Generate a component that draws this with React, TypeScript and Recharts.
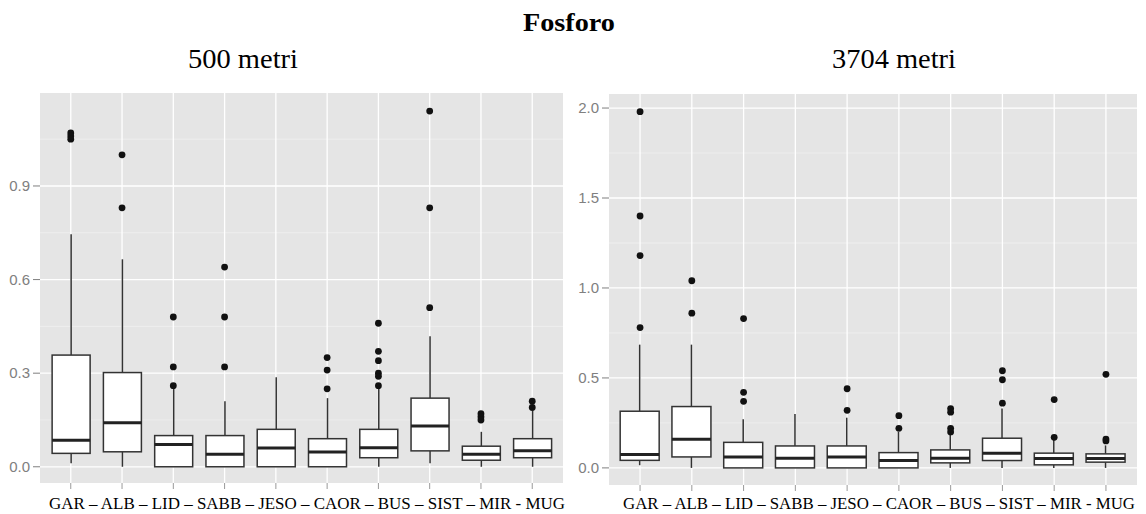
import React from 'react';
import { ComposedChart, Bar, Scatter, XAxis, YAxis, CartesianGrid } from 'recharts';

// ---------- data ----------
const categories = ['GAR', 'ALB', 'LID', 'SABB', 'JESO', 'CAOR', 'BUS', 'SIST', 'MIR', 'MUG'];
const xLabelText = 'GAR – ALB – LID – SABB – JESO – CAOR – BUS – SIST – MIR - MUG';

// 500 metri
const lowWhisker500 = [0.011, 0, 0, 0, 0, 0, 0, 0.011, 0, 0];
const q1_500 = [0.043, 0.048, 0, 0, 0, 0, 0.029, 0.051, 0.021, 0.029];
const median500 = [0.085, 0.141, 0.071, 0.04, 0.06, 0.047, 0.061, 0.131, 0.04, 0.051];
const q3_500 = [0.358, 0.302, 0.1, 0.1, 0.12, 0.09, 0.12, 0.22, 0.066, 0.09];
const highWhisker500 = [0.745, 0.665, 0.25, 0.21, 0.287, 0.22, 0.255, 0.418, 0.112, 0.18];
const outliers500 = [
  [1.07, 1.06, 1.05],
  [1.0, 0.83],
  [0.48, 0.32, 0.26],
  [0.64, 0.48, 0.32],
  [],
  [0.35, 0.31, 0.25],
  [0.46, 0.37, 0.34, 0.3, 0.29, 0.26],
  [1.14, 0.83, 0.51],
  [0.17, 0.16, 0.15],
  [0.21, 0.19],
];
const majorTicks500 = [0, 0.3, 0.6, 0.9];
const minorTicks500 = [0.15, 0.45, 0.75, 1.05];
const domain500: [number, number] = [-0.052, 1.198];

// 3704 metri
const lowWhisker3704 = [0.015, 0, 0, 0, 0, 0, 0, 0, 0, 0];
const q1_3704 = [0.042, 0.061, 0, 0, 0, 0, 0.028, 0.041, 0.017, 0.032];
const median3704 = [0.074, 0.159, 0.061, 0.054, 0.061, 0.041, 0.054, 0.082, 0.052, 0.052];
const q3_3704 = [0.315, 0.341, 0.142, 0.122, 0.122, 0.085, 0.1, 0.165, 0.082, 0.078];
const highWhisker3704 = [0.685, 0.685, 0.27, 0.3, 0.279, 0.2, 0.19, 0.33, 0.16, 0.125];
const outliers3704 = [
  [1.98, 1.4, 1.18, 0.78],
  [1.04, 0.86],
  [0.83, 0.42, 0.37],
  [],
  [0.44, 0.32],
  [0.29, 0.22],
  [0.33, 0.31, 0.22, 0.2],
  [0.54, 0.49, 0.36],
  [0.38, 0.17],
  [0.52, 0.16, 0.15],
];
const majorTicks3704 = [0, 0.5, 1.0, 1.5, 2.0];
const minorTicks3704 = [0.25, 0.75, 1.25, 1.75];
const domain3704: [number, number] = [-0.095, 2.078];

const categoryPositions = categories.map((_, i) => i + 1);

// ---------- builders ----------
function buildBoxes(lo: number[], q1: number[], med: number[], q3: number[], hi: number[]) {
  return categories.map((name, i) => ({
    name,
    x: i + 1,
    range: [lo[i], hi[i]],
    lo: lo[i],
    q1: q1[i],
    med: med[i],
    q3: q3[i],
    hi: hi[i],
  }));
}

function buildOutliers(out: number[][]) {
  return out.flatMap((vals, i) => vals.map((v) => ({ x: i + 1, y: v })));
}

const BoxShape = (props: any) => {
  const { x, y, width, height, payload } = props;
  if (!payload) return null;
  const { lo, hi, q1, med, q3 } = payload;
  const span = hi - lo;
  const toPix = (v: number) => y + (height * (hi - v)) / span;
  const cx = x + width / 2;
  const yHi = toPix(hi);
  const yLo = toPix(lo);
  const yQ1 = toPix(q1);
  const yQ3 = toPix(q3);
  const yMed = toPix(med);
  return (
    <g>
      <line x1={cx} x2={cx} y1={yHi} y2={yQ3} stroke="#333" strokeWidth={1.5} />
      <line x1={cx} x2={cx} y1={yQ1} y2={yLo} stroke="#333" strokeWidth={1.5} />
      <rect x={x} y={yQ3} width={width} height={yQ1 - yQ3} fill="#fff" stroke="#333" strokeWidth={1.5} />
      <line x1={x} x2={x + width} y1={yMed} y2={yMed} stroke="#222" strokeWidth={3} />
    </g>
  );
};

const OutlierDot = (props: any) => {
  const { cx, cy } = props;
  if (cx == null || cy == null) return null;
  return <circle cx={cx} cy={cy} r={3.4} fill="#111" />;
};

const YTick = (props: any) => {
  const { x, y, payload } = props;
  return (
    <text
      x={x}
      y={y}
      dy={5}
      textAnchor="end"
      fill="#808080"
      fontSize={15}
      fontFamily="Liberation Sans, Arial, sans-serif"
    >
      {Number(payload.value).toFixed(1)}
    </text>
  );
};

function Panel(props: {
  width: number;
  height: number;
  margin: any;
  boxes: any[];
  outliers: any[];
  domain: [number, number];
  major: number[];
  minor: number[];
  barSize: number;
}) {
  const { width, height, margin, boxes, outliers, domain, major, minor, barSize } = props;
  return (
    <ComposedChart width={width} height={height} data={boxes} margin={margin}>
      <CartesianGrid
        fill="#e5e5e5"
        stroke="#f2f2f2"
        strokeWidth={0.7}
        horizontalValues={minor}
        vertical={false}
      />
      <CartesianGrid
        stroke="#ffffff"
        strokeWidth={1.3}
        horizontalValues={major}
        verticalValues={categoryPositions}
      />
      <XAxis
        dataKey="x"
        type="number"
        domain={[0.4, 10.6]}
        ticks={categoryPositions}
        interval={0}
        allowDataOverflow
        axisLine={false}
        tickLine={{ stroke: '#9a9a9a' }}
        tickSize={6}
        tickFormatter={() => ''}
        height={8}
      />
      <YAxis
        type="number"
        domain={domain}
        ticks={major}
        interval={0}
        allowDataOverflow
        axisLine={false}
        tickLine={{ stroke: '#7f7f7f' }}
        tickSize={7}
        tickMargin={3}
        width={35}
        tick={YTick}
      />
      <Bar dataKey="range" barSize={barSize} shape={BoxShape} isAnimationActive={false} />
      <Scatter data={outliers} dataKey="y" shape={OutlierDot} isAnimationActive={false} />
    </ComposedChart>
  );
}

export default function App() {
  const boxes500 = buildBoxes(lowWhisker500, q1_500, median500, q3_500, highWhisker500);
  const boxes3704 = buildBoxes(lowWhisker3704, q1_3704, median3704, q3_3704, highWhisker3704);
  const out500 = buildOutliers(outliers500);
  const out3704 = buildOutliers(outliers3704);
  const serif = 'Liberation Serif, Times New Roman, serif';

  return (
    <div style={{ position: 'absolute', left: 0, top: 0, width: 1146, height: 514, background: '#fff', overflow: 'hidden' }}>
      <div style={{ position: 'absolute', left: 0, top: 0 }}>
        <Panel
          width={570}
          height={491}
          margin={{ top: 93, right: 7, left: 5, bottom: 0 }}
          boxes={boxes500}
          outliers={out500}
          domain={domain500}
          major={majorTicks500}
          minor={minorTicks500}
          barSize={38}
        />
      </div>
      <div style={{ position: 'absolute', left: 570, top: 0 }}>
        <Panel
          width={576}
          height={493}
          margin={{ top: 94, right: 9, left: 4, bottom: 0 }}
          boxes={boxes3704}
          outliers={out3704}
          domain={domain3704}
          major={majorTicks3704}
          minor={minorTicks3704}
          barSize={39}
        />
      </div>
      <svg width={1146} height={514} style={{ position: 'absolute', left: 0, top: 0, pointerEvents: 'none' }}>
        <text x={569} y={31} textAnchor="middle" fontFamily={serif} fontWeight="bold" fontSize={25} textLength={92} lengthAdjust="spacingAndGlyphs" fill="#000">
          Fosforo
        </text>
        <text x={243} y={68} textAnchor="middle" fontFamily={serif} fontSize={27} textLength={110} lengthAdjust="spacingAndGlyphs" fill="#000">
          500 metri
        </text>
        <text x={894} y={68} textAnchor="middle" fontFamily={serif} fontSize={27} textLength={124} lengthAdjust="spacingAndGlyphs" fill="#000">
          3704 metri
        </text>
        <text x={307} y={509} textAnchor="middle" fontFamily={serif} fontSize={16} textLength={516} lengthAdjust="spacingAndGlyphs" fill="#000">
          {xLabelText}
        </text>
        <text x={879} y={509} textAnchor="middle" fontFamily={serif} fontSize={16} textLength={512} lengthAdjust="spacingAndGlyphs" fill="#000">
          {xLabelText}
        </text>
      </svg>
    </div>
  );
}
